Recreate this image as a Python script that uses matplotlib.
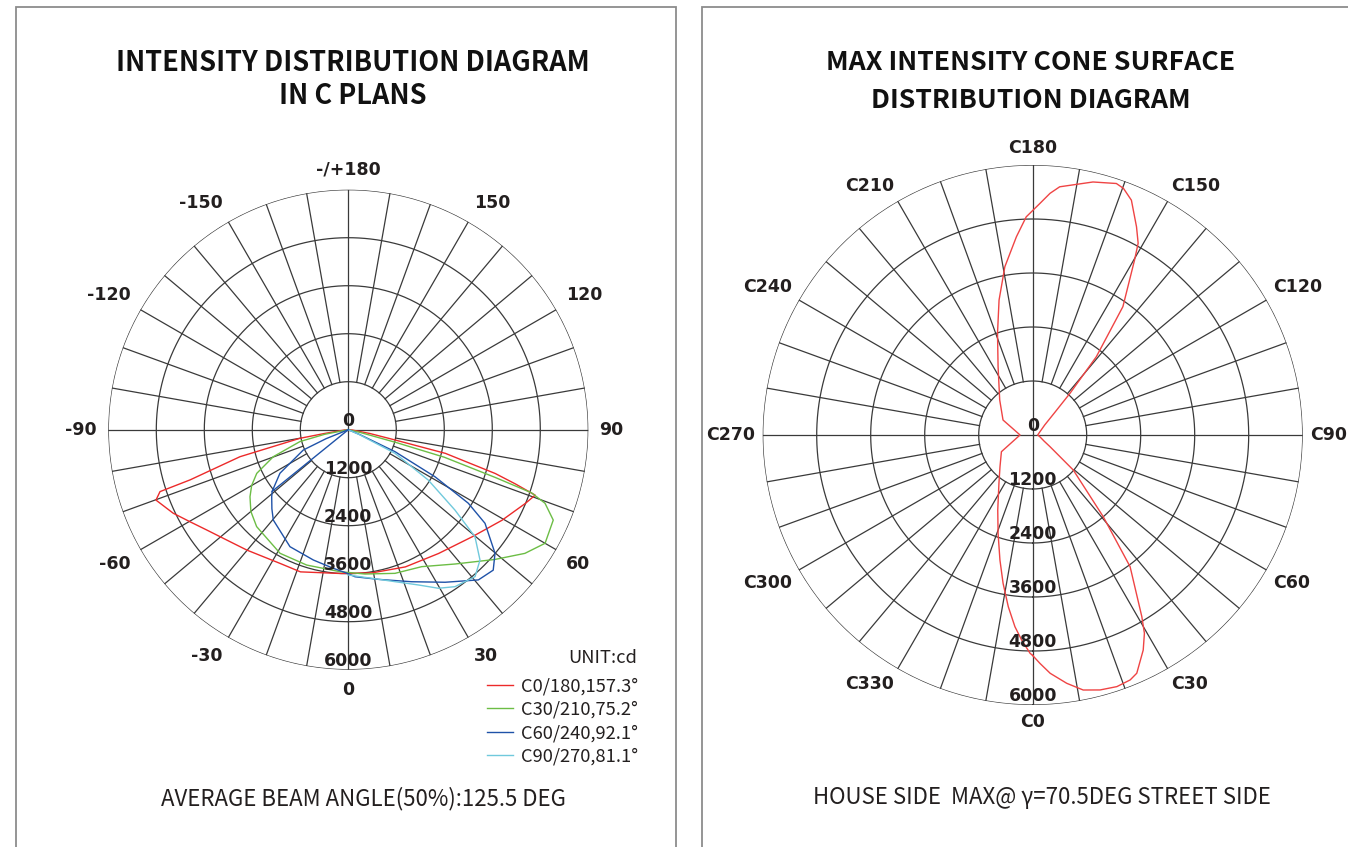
import numpy as np
import matplotlib.pyplot as plt
from matplotlib.patches import Rectangle

W, H = 1348, 847

# ---------------- data ----------------
ring_values = [1200, 2400, 3600, 4800, 6000]

# left diagram: intensity (cd) vs gamma (deg), negative = left half
c0_gamma = [-90, -85, -81, -79.9, -76, -72.4, -71.8, -69.9, -64.5, -59.8, -54.7, -47.8, -40.1,
            -33.8, -26.9, -18.6, -3.2, 9.4, 22.6, 36.1, 49.1, 59.5, 67.4, 70.7, 72, 73.4, 76.3,
            77.6, 80, 85, 90]
c0_cd = [0, 100, 600, 1230, 2790, 4150, 4955, 5120, 4850, 4577, 4338, 4105, 3935,
         3820, 3752, 3750, 3600, 3628, 3715, 3830, 4092, 4460, 4795, 4950, 4400, 3835, 2500,
         1200, 550, 100, 0]

c30_gamma = [-90, -82, -79, -76.2, -70.2, -64.5, -60, -55.7, -50, -43.4, -28.9, -17.1, -3.3,
             6.6, 18, 28.2, 38.5, 48.5, 55, 60, 66.2, 69.5, 71, 72, 74, 75, 77, 80, 90]
c30_cd = [0, 0, 600, 1245, 1993, 2536, 2790, 2975, 3180, 3335, 3530, 3540, 3556,
          3632, 3776, 3885, 4290, 4895, 5390, 5680, 5600, 5250, 4840, 3860, 2500, 1250, 300, 0, 0]

c60_gamma = [-90, -72, -68, -65.7, -57.5, -51, -48.8, -44, -39.7, -26.5, -15, -6.2, 0, 2.6,
             11.3, 22.6, 32.4, 40.9, 45.9, 49.9, 55.6, 58.5, 61.5, 64.8, 67, 70, 90]
c60_cd = [0, 0, 600, 1235, 2026, 2450, 2545, 2750, 2935, 3268, 3373, 3485, 3600, 3680,
          3815, 4117, 4517, 4968, 5045, 4795, 4142, 3520, 2465, 1290, 300, 0, 0]
c60_spur = (-51, 2450)   # straight stroke from the origin drawn by the source software

c90_gamma = [0, 8.9, 17.1, 24.3, 29.6, 34.2, 40.8, 45.3, 49.8, 53, 57.8, 63.2, 66, 68, 90]
c90_cd = [3633, 3760, 3975, 4259, 4559, 4745, 4851, 4632, 4146, 3338, 2362, 1308, 300, 0, 0]

legend_labels = ["C0/180,157.3°", "C30/210,75.2°", "C60/240,92.1°", "C90/270,81.1°"]
curve_colors = ["#ec2a2a", "#6cbd45", "#1f52a8", "#70c9dc"]

left_angle_labels = ["0", "30", "60", "90", "120", "150", "-/+180", "-150", "-120", "-90", "-60", "-30"]

# right diagram: intensity on the max cone (gamma = 70.5) vs C angle
cone_c = [0, 1.8, 4.2, 7.8, 11.2, 14.8, 18.5, 21.7, 23.6, 27.2, 29.4, 31, 36.5, 40.8, 43.6,
          49.2, 56, 62, 75, 90, 113, 129.8, 135.6, 138.2, 140.9, 144.9, 149.8, 151.2, 153.5,
          157.2, 159.8, 161.6, 166.6, 173.8, 175.9, 178.2, 181.7, 184.7, 189.4, 194, 199.1,
          206.9, 223.3, 243.2, 263, 270, 298.1, 314, 325, 335, 340.6, 345.3, 348.7, 351.9,
          354.7, 356.9, 359.3, 360]
cone_cd = [4900, 5076, 5310, 5569, 5777, 5860, 5896, 5858, 5777, 5373, 5057, 4708, 3638, 2400, 1790,
           1191, 464, 284, 170, 111, 170, 347, 700, 1243, 2243, 3486, 4500, 4864, 5170,
           5660, 5840, 5890, 5780, 5548, 5384, 5150, 4850, 4420, 3790, 3090, 2390,
           1700, 1069, 739, 329, 282, 788, 1010, 1308, 1838, 2316, 2870, 3360, 3853,
           4278, 4561, 4850, 4900]
right_angle_labels = ["C0", "C30", "C60", "C90", "C120", "C150", "C180", "C210", "C240", "C270", "C300", "C330"]

# ---------------- figure ----------------
fig = plt.figure(figsize=(W / 100, H / 100), dpi=100)

def fx(x):
    return x / W

def fy(y):
    return 1 - y / H

CJK = ["Noto Sans CJK SC", "DejaVu Sans"]
GRID = "#3a3a3a"
TXT = "#231f1f"

# panel frames
fig.add_artist(Rectangle((fx(16), fy(870)), fx(676) - fx(16), fy(7) - fy(870),
                         transform=fig.transFigure, fill=False, ec="#8c8c8c", lw=1.3))
fig.add_artist(Rectangle((fx(702), fy(870)), fx(1370) - fx(702), fy(7) - fy(870),
                         transform=fig.transFigure, fill=False, ec="#8c8c8c", lw=1.3))


def polar_panel(cx, cy, rad):
    ax = fig.add_axes([fx(cx - rad), fy(cy + rad), 2 * rad / W, 2 * rad / H], projection="polar")
    ax.set_theta_zero_location("S")
    ax.set_theta_direction(1)
    ax.set_ylim(0, ring_values[-1])
    ax.grid(False)
    ax.set_xticks([])
    ax.set_yticks([])
    ax.spines["polar"].set_visible(False)
    ax.patch.set_alpha(0)
    t = np.linspace(0, 2 * np.pi, 400)
    for r in ring_values:
        ax.plot(t, np.full_like(t, r), color=GRID, lw=0.9, zorder=1)
    for a in range(0, 360, 10):
        start = 0 if a % 90 == 0 else ring_values[0]
        ax.plot([np.radians(a)] * 2, [start, ring_values[-1]], color=GRID, lw=0.9, zorder=1)
    # ring labels along the bottom axis
    for r in [0] + ring_values:
        ax.text(0, r, str(r), ha="center", va="bottom", fontsize=12.5, color=TXT,
                family="DejaVu Sans", fontweight="bold", zorder=4)
    return ax


def angle_labels(ax, labels, radius):
    # anchor the corner of each label that faces the centre on a circle
    for i, lab in enumerate(labels):
        a = np.radians(i * 30)
        sx, sy = np.sin(a), -np.cos(a)      # screen direction (x right, y up)
        ha = "left" if sx > 0.1 else ("right" if sx < -0.1 else "center")
        va = "bottom" if sy > 0.1 else ("top" if sy < -0.1 else "center")
        ax.text(a, radius, lab, ha=ha, va=va, fontsize=12.5, color=TXT,
                family="DejaVu Sans", fontweight="bold", clip_on=False)


# ---------- left: C planes ----------
axl = polar_panel(348.3, 429.7, 240)
curves = [(c0_gamma, c0_cd), (c30_gamma, c30_cd), (c60_gamma, c60_cd), (c90_gamma, c90_cd)]
handles = []
for (g, v), col, lab in zip(curves, curve_colors, legend_labels):
    ln, = axl.plot(np.radians(g), v, color=col, lw=1.0, label=lab, zorder=3)
    handles.append(ln)
axl.plot([np.radians(c60_spur[0])] * 2, [0, c60_spur[1]], color=curve_colors[2], lw=1.0, zorder=3)
angle_labels(axl, left_angle_labels, 6280)

fig.text(fx(637), fy(658), "UNIT:cd", ha="right", va="center", fontsize=13.2, family=CJK, color=TXT)
leg = axl.legend(handles=handles, loc="upper right", bbox_to_anchor=(fx(638), fy(677)),
                 bbox_transform=fig.transFigure, frameon=False,
                 handlelength=1.4, handletextpad=0.45, labelspacing=0.3,
                 borderpad=0, borderaxespad=0, prop={"family": CJK, "size": 13.2})
for t in leg.get_texts():
    t.set_color(TXT)

fig.text(fx(353), fy(63), "INTENSITY DISTRIBUTION DIAGRAM", ha="center", va="center",
         fontsize=19.5, family=CJK, fontweight="bold", color="#111111")
fig.text(fx(353), fy(96), "IN C PLANS", ha="center", va="center",
         fontsize=19.5, family=CJK, fontweight="bold", color="#111111")
fig.text(fx(363), fy(799), "AVERAGE BEAM ANGLE(50%):125.5 DEG", ha="center", va="center",
         fontsize=16, family=CJK, color=TXT)

# ---------- right: max intensity cone ----------
axr = polar_panel(1032.7, 435, 270)
axr.plot(np.radians(cone_c), cone_cd, color="#ef4444", lw=1.0, zorder=3)
angle_labels(axr, right_angle_labels, 6170)

fig.text(fx(1031), fy(63), "MAX INTENSITY CONE SURFACE", ha="center", va="center",
         fontsize=19.2, family=CJK, fontweight="bold", color="#111111")
fig.text(fx(1031), fy(101), "DISTRIBUTION DIAGRAM", ha="center", va="center",
         fontsize=19.2, family=CJK, fontweight="bold", color="#111111")
fig.text(fx(1042), fy(797), "HOUSE SIDE  MAX@ γ=70.5DEG STREET SIDE", ha="center", va="center",
         fontsize=16, family=CJK, color=TXT)

fig.savefig("out.png", dpi=100)
